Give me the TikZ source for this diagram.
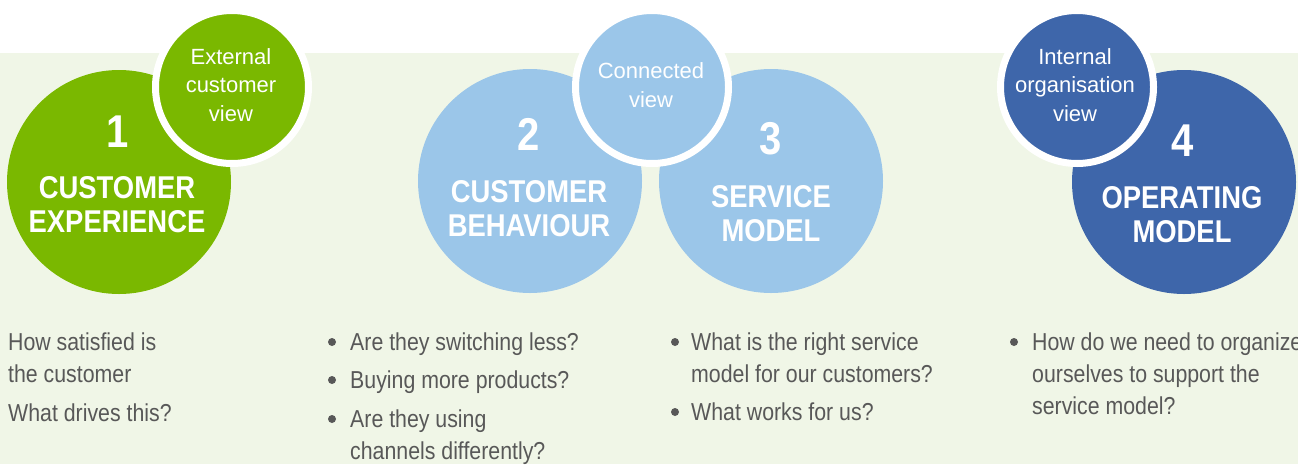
\documentclass[tikz,border=0pt]{standalone}
\usepackage{fontspec}
\setmainfont{Liberation Sans}
\newfontfamily\condfont[FakeStretch=0.87]{Liberation Sans}
\definecolor{expgreen}{RGB}{122,184,0}
\definecolor{connblue}{RGB}{155,198,233}
\definecolor{orgblue}{RGB}{62,102,170}
\definecolor{panelbg}{RGB}{240,246,231}
\definecolor{bodygray}{RGB}{88,88,88}
\tikzset{
  bigcirc/.style={circle, minimum size=224pt, inner sep=0pt},
  viewcirc/.style={circle, minimum size=153pt, inner sep=0pt, draw=white, line width=7pt},
  numtext/.style={text=white, anchor=base, inner sep=0pt, font=\condfont\bfseries\fontsize{46}{46}\selectfont},
  titletext/.style={text=white, anchor=base, inner sep=0pt, align=center, font=\condfont\bfseries\fontsize{31.5}{34}\selectfont},
  viewtext/.style={text=white, anchor=base, inner sep=0pt, align=center, font=\fontsize{22}{28.5}\selectfont},
  bodytext/.style={text=bodygray, anchor=base west, inner sep=0pt, align=left, font=\condfont\fontsize{24.5}{32}\selectfont},
  bulletdot/.style={circle, fill=bodygray, minimum size=8pt, inner sep=0pt}
}
\begin{document}
\begin{tikzpicture}[x=1pt,y=1pt,yscale=-1,xscale=1]
\useasboundingbox (0,0) rectangle (1298,464);

%Shape: Background
\fill[white] (0,0) rectangle (1298,53);
\fill[panelbg] (0,53) rectangle (1298,464);

%Shape: Circle
\node[bigcirc, fill=expgreen] (exp) at (119,182) {};
%Shape: Circle
\node[bigcirc, fill=connblue] (behav) at (530,181) {};
%Shape: Circle
\node[bigcirc, fill=connblue] (service) at (771,181) {};
%Shape: Circle
\node[bigcirc, fill=orgblue] (operating) at (1184,182) {};
%Shape: Circle
\node[viewcirc, fill=expgreen] (extview) at (232,87) {};
%Shape: Circle
\node[viewcirc, fill=connblue] (connview) at (652,87) {};
%Shape: Circle
\node[viewcirc, fill=orgblue] (intview) at (1077,87) {};

% Text Node
\node[viewtext] (extviewtxt) at (231,121) {External\\customer\\view};
% Text Node
\node[viewtext] (connviewtxt) at (651,107) {Connected\\view};
% Text Node
\node[viewtext] (intviewtxt) at (1075,121) {Internal\\organisation\\view};

% Text Node
\node[numtext] (expnum) at (118,147) {1};
\node[titletext] (exptitle) at (117,232) {CUSTOMER\\EXPERIENCE};
% Text Node
\node[numtext] (behavnum) at (529,150) {2};
\node[titletext] (behavtitle) at (529,236) {CUSTOMER\\BEHAVIOUR};
% Text Node
\node[numtext] (servicenum) at (771,154) {3};
\node[titletext] (servicetitle) at (771,241) {SERVICE\\MODEL};
% Text Node
\node[numtext] (operatingnum) at (1183,156) {4};
\node[titletext] (operatingtitle) at (1182,242) {OPERATING\\MODEL};

% Text Node
\node[bodytext] (expq1) at (8,382) {How satisfied is\\the customer};
\node[bodytext] (expq2) at (8,421) {What drives this?};
% Text Node
\node[bodytext] (behavq1) at (350,350) {Are they switching less?};
\node[bodytext] (behavq2) at (350,388) {Buying more products?};
\node[bodytext] (behavq3) at (350,459) {Are they using\\channels differently?};
% Text Node
\node[bodytext] (serviceq1) at (691,382) {What is the right service\\model for our customers?};
\node[bodytext] (serviceq2) at (691,420) {What works for us?};
% Text Node
\node[bodytext] (operatingq1) at (1032,414) {How do we need to organize\\ourselves to support the\\service model?};

%Shape: Bullets
\node[bulletdot] (behavb1) at (332,342) {};
\node[bulletdot] (behavb2) at (332,380) {};
\node[bulletdot] (behavb3) at (332,419) {};
\node[bulletdot] (serviceb1) at (675,342) {};
\node[bulletdot] (serviceb2) at (675,412) {};
\node[bulletdot] (operatingb1) at (1014,342) {};

\end{tikzpicture}
\end{document}
